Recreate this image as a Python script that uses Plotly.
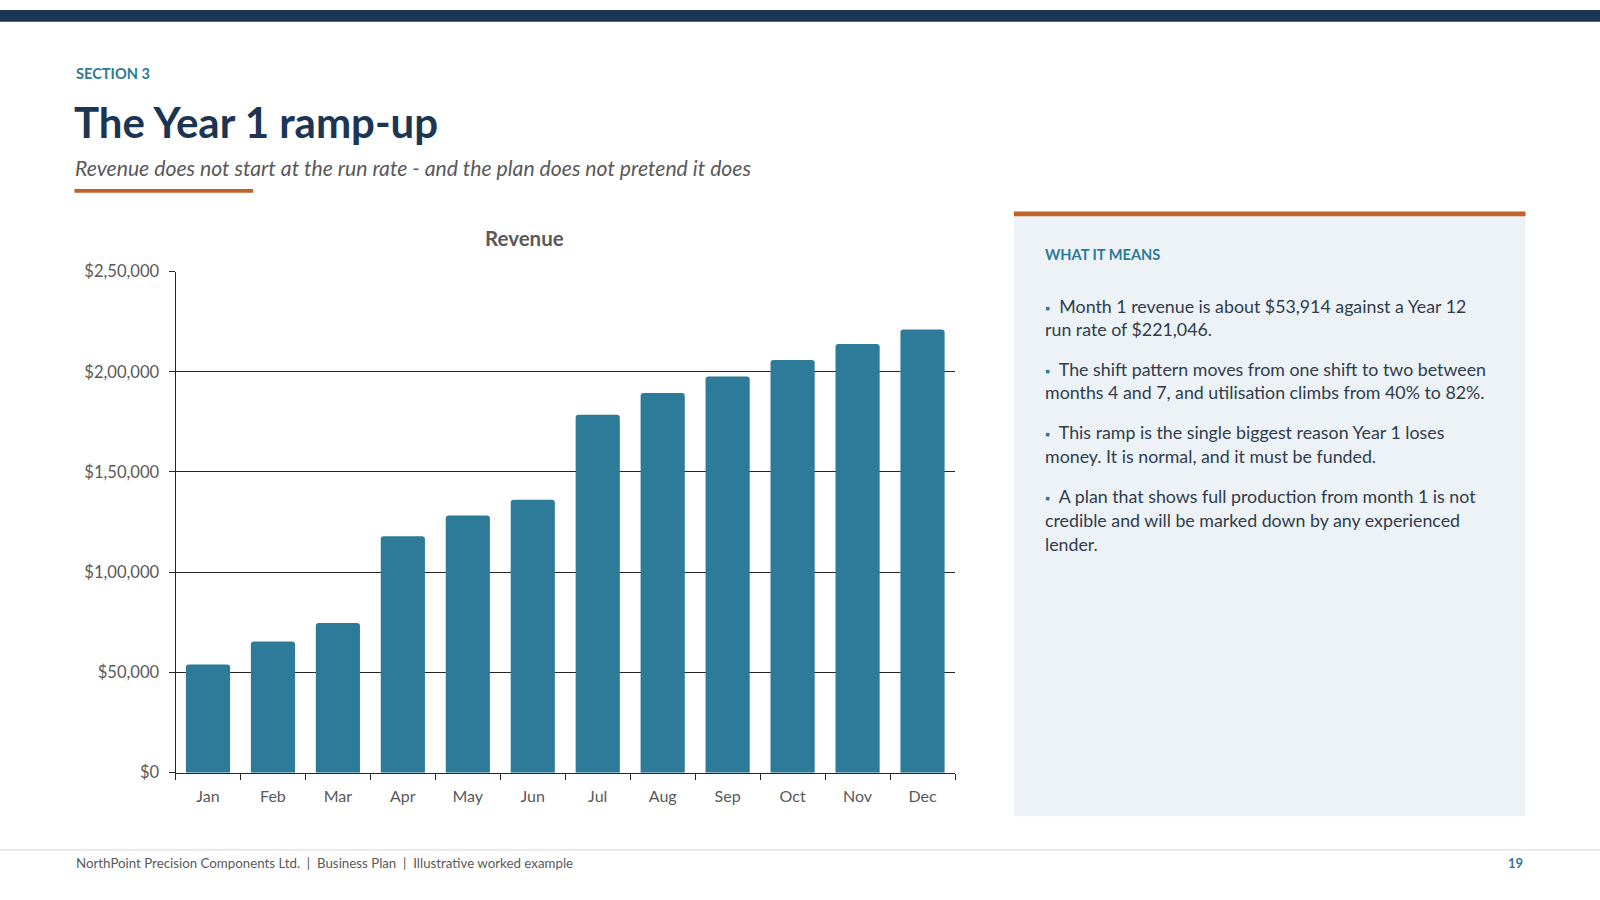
import plotly.graph_objects as go

months = ["Jan", "Feb", "Mar", "Apr", "May", "Jun", "Jul", "Aug", "Sep", "Oct", "Nov", "Dec"]
revenue = [53914, 65400, 74700, 117900, 128300, 136200, 178600, 189400, 197600, 205900, 213800, 221046]
y_tick_vals = [0, 50000, 100000, 150000, 200000, 250000]
y_tick_text = ["$0", "$50,000", "$1,00,000", "$1,50,000", "$2,00,000", "$2,50,000"]

section_label = "SECTION 3"
title_text = "The Year 1 ramp-up"
subtitle_text = "Revenue does not start at the run rate - and the plan does not pretend it does"
chart_title = "Revenue"
panel_heading = "WHAT IT MEANS"
bullets = [
    ["Month 1 revenue is about $53,914 against a Year 12", "run rate of $221,046."],
    ["The shift pattern moves from one shift to two between", "months 4 and 7, and utilisation climbs from 40% to 82%."],
    ["This ramp is the single biggest reason Year 1 loses", "money. It is normal, and it must be funded."],
    ["A plan that shows full production from month 1 is not", "credible and will be marked down by any experienced", "lender."],
]
footer_text = "NorthPoint Precision Components Ltd.  |  Business Plan  |  Illustrative worked example"
page_no = "19"

W, H = 1600, 900
FONT = "Lato"
NAVY = "#1b3552"
TEAL = "#2d7a96"
BAR = "#2e7b99"
ORANGE = "#c0622a"
GRAY = "#595959"
TEXT = "#2f3c4c"


def px(x):
    return x / W


def py(y):
    return 1 - y / H


fig = go.Figure()
fig.add_trace(go.Bar(
    x=months, y=revenue,
    marker=dict(color=BAR, cornerradius=3, line=dict(width=0)),
    hoverinfo="skip",
))

shapes = [
    dict(type="rect", xref="paper", yref="paper", x0=0, x1=1, y0=py(12), y1=1,
         fillcolor=NAVY, line=dict(width=0), layer="above"),
    dict(type="rect", xref="paper", yref="paper", x0=px(74.5), x1=px(253), y0=py(187), y1=py(183),
         fillcolor=ORANGE, line=dict(width=0)),
    dict(type="rect", xref="paper", yref="paper", x0=px(1014), x1=px(1525.5), y0=py(824.5), y1=py(206),
         fillcolor="#edf2f6", line=dict(width=0), layer="below"),
    dict(type="rect", xref="paper", yref="paper", x0=px(1014), x1=px(1525.5), y0=py(211), y1=py(206),
         fillcolor=ORANGE, line=dict(width=0)),
    dict(type="line", xref="paper", yref="paper", x0=0, x1=1, y0=py(859), y1=py(859),
         line=dict(color="#d3d8dd", width=1)),
]

ann = []
ann.append(dict(text="<b>" + section_label + "</b>", x=px(73.5), y=py(65), xanchor="left", yanchor="middle",
                font=dict(family=FONT, size=14.6, color=TEAL)))
ann.append(dict(text="<b>" + title_text + "</b>", x=px(72), y=py(115), xanchor="left", yanchor="middle",
                font=dict(family=FONT, size=42, color=NAVY)))
ann.append(dict(text="<i>" + subtitle_text + "</i>", x=px(73), y=py(162), xanchor="left", yanchor="middle",
                font=dict(family=FONT, size=21.2, color=GRAY)))
ann.append(dict(text="<b>" + chart_title + "</b>", x=px(524), y=py(233), xanchor="center", yanchor="middle",
                font=dict(family=FONT, size=20.5, color=GRAY)))
ann.append(dict(text="<b>" + panel_heading + "</b>", x=px(1042.5), y=py(250), xanchor="left", yanchor="middle",
                font=dict(family=FONT, size=14.6, color=TEAL)))

line_ys = [[303, 326.5], [367.3, 390.8], [431.6, 456.1], [496.9, 521.4, 545.9]]
for lines, ys in zip(bullets, line_ys):
    for i, (txt, yy) in enumerate(zip(lines, ys)):
        if i == 0:
            txt = "<span style='color:%s;font-size:13px'>▪</span>  %s" % (TEAL, txt)
        ann.append(dict(text=txt, x=px(1043), y=py(yy), xanchor="left", yanchor="middle", align="left",
                        font=dict(family=FONT, size=17.8, color=TEXT)))

ann.append(dict(text=footer_text, x=px(73.5), y=py(872), xanchor="left", yanchor="middle",
                font=dict(family=FONT, size=13.3, color=GRAY)))
ann.append(dict(text="<b>" + page_no + "</b>", x=px(1525), y=py(872), xanchor="right", yanchor="middle",
                font=dict(family=FONT, size=13, color=TEAL)))

for a in ann:
    a.update(xref="paper", yref="paper", showarrow=False)

fig.update_layout(
    width=W, height=H,
    margin=dict(l=0, r=0, t=0, b=0),
    paper_bgcolor="white", plot_bgcolor="white",
    showlegend=False,
    bargap=0.32,
    shapes=shapes,
    annotations=ann,
    font=dict(family=FONT, color=GRAY),
    xaxis=dict(
        domain=[px(175.5), px(955)],
        showline=True, linecolor="#262626", linewidth=1,
        ticks="outside", ticklen=6, tickcolor="#262626", tickson="boundaries",
        tickfont=dict(family=FONT, size=16, color=GRAY),
        ticklabelstandoff=9,
        showgrid=False, fixedrange=True,
    ),
    yaxis=dict(
        domain=[py(780), py(267.5)],
        range=[0, 250000],
        tickvals=y_tick_vals, ticktext=y_tick_text,
        showline=True, linecolor="#262626", linewidth=1,
        ticks="outside", ticklen=6, tickcolor="#262626",
        showgrid=True, gridcolor="#262626", gridwidth=1,
        zeroline=False,
        tickfont=dict(family=FONT, size=16.6, color=GRAY),
        ticklabelstandoff=6,
        fixedrange=True,
    ),
)

post = ("document.body.style.margin='0';document.body.style.overflow='hidden';"
        "var gd=document.getElementById('{plot_id}');gd.style.position='fixed';"
        "gd.style.top='0px';gd.style.left='0px';")
fig.write_html("out.html", post_script=post, config={"displayModeBar": False})
